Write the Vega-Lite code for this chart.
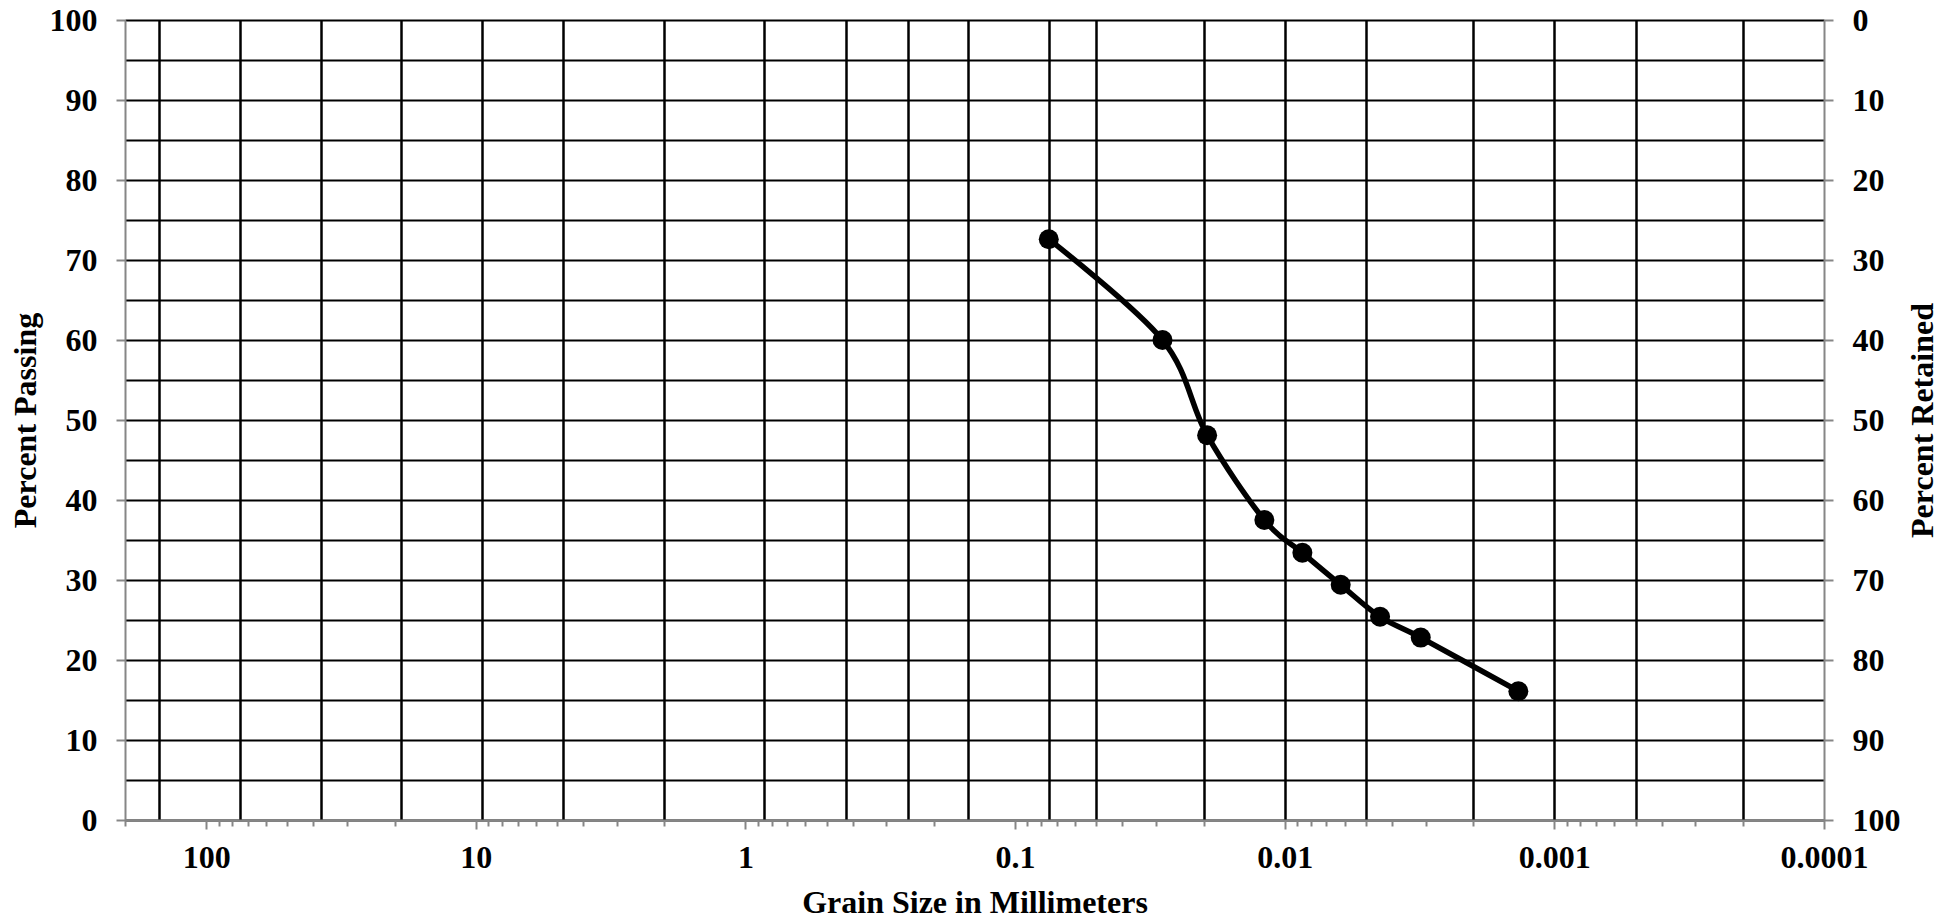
{
  "$schema": "https://vega.github.io/schema/vega-lite/v6.json",
  "width": 1699,
  "height": 800,
  "autosize": "none",
  "padding": {"left": 125, "top": 20, "right": 128, "bottom": 101},
  "background": "white",
  "config": {
    "view": {"stroke": null},
    "axis": {
      "labelFont": "Liberation Serif",
      "titleFont": "Liberation Serif",
      "labelFontWeight": "bold",
      "titleFontWeight": "bold",
      "labelFontSize": 32,
      "titleFontSize": 32,
      "labelColor": "#000000",
      "titleColor": "#000000",
      "domainColor": "#868686",
      "tickColor": "#868686",
      "domainWidth": 2,
      "tickWidth": 2,
      "labelFlush": false,
      "labelOverlap": false
    }
  },
  "data": {
    "values": [
      {"size": 0.075, "passing": 72.6},
      {"size": 0.0284, "passing": 60.0},
      {"size": 0.0194, "passing": 48.1},
      {"size": 0.0119, "passing": 37.5},
      {"size": 0.0086, "passing": 33.4},
      {"size": 0.0062, "passing": 29.4},
      {"size": 0.00443, "passing": 25.4},
      {"size": 0.00313, "passing": 22.8},
      {"size": 0.00136, "passing": 16.1}
    ]
  },
  "layer": [
    {
      "mark": {"type": "point", "opacity": 0},
      "encoding": {
        "x": {
          "field": "size", "type": "quantitative",
          "scale": {"type": "log", "domain": [0.0001, 200], "reverse": true, "nice": false},
          "axis": {"orient": "bottom", "values": [150, 75, 37.5, 19, 9.5, 4.75, 2, 0.85, 0.425, 0.25, 0.15, 0.075, 0.05, 0.02, 0.01, 0.005, 0.002, 0.001, 0.0005, 0.0002],
                   "grid": true, "gridColor": "#000000", "gridWidth": 2.5, "gridOpacity": 1, "ticks": false, "labels": false, "domain": false, "title": null}
        },
        "y": {
          "field": "passing", "type": "quantitative",
          "scale": {"domain": [0, 100], "nice": false, "zero": false},
          "axis": {"orient": "left", "values": [0, 5, 10, 15, 20, 25, 30, 35, 40, 45, 50, 55, 60, 65, 70, 75, 80, 85, 90, 95, 100],
                   "grid": true, "gridColor": "#000000", "gridWidth": 2.2, "gridOpacity": 1, "ticks": false, "labels": false, "domain": false, "title": null}
        }
      }
    },
    {
      "mark": {"type": "point", "opacity": 0},
      "encoding": {
        "x": {
          "field": "size", "type": "quantitative",
          "scale": {"type": "log", "domain": [0.0001, 200], "reverse": true, "nice": false},
          "axis": {"orient": "bottom", "values": [200, 90, 80, 70, 60, 50, 40, 30, 20, 9, 8, 7, 6, 5, 4, 3, 2, 0.9, 0.8, 0.7, 0.6, 0.5, 0.4, 0.3, 0.2, 0.09, 0.08, 0.07, 0.06, 0.05, 0.04, 0.03, 0.02, 0.009, 0.008, 0.007, 0.006, 0.005, 0.004, 0.003, 0.002, 0.0009, 0.0008, 0.0007, 0.0006, 0.0005, 0.0004, 0.0003, 0.0002],
                   "grid": false, "ticks": true, "tickSize": 6, "labels": false, "domain": false, "title": null}
        },
        "y": {"field": "passing", "type": "quantitative", "scale": {"domain": [0, 100], "nice": false, "zero": false}, "axis": null}
      }
    },
    {
      "mark": {"type": "point", "opacity": 0},
      "encoding": {
        "x": {
          "field": "size", "type": "quantitative",
          "scale": {"type": "log", "domain": [0.0001, 200], "reverse": true, "nice": false},
          "axis": {"orient": "bottom", "values": [100, 10, 1, 0.1, 0.01, 0.001, 0.0001], "format": "~g",
                   "grid": false, "tickSize": 9, "labelPadding": 38, "labelBaseline": "alphabetic",
                   "domain": true, "title": "Grain Size in Millimeters",
                   "titleX": 849.5, "titleY": 92, "titleBaseline": "alphabetic", "titleAlign": "center"}
        },
        "y": {
          "field": "passing", "type": "quantitative",
          "scale": {"domain": [0, 100], "nice": false, "zero": false},
          "axis": {"orient": "left", "values": [0, 10, 20, 30, 40, 50, 60, 70, 80, 90, 100],
                   "grid": false, "tickSize": 9, "labelPadding": 19, "domain": true,
                   "title": "Percent Passing", "titleAngle": 270, "titleX": -90, "titleY": 400,
                   "titleBaseline": "alphabetic", "titleAlign": "center"}
        }
      }
    },
    {
      "mark": {"type": "point", "opacity": 0},
      "encoding": {
        "x": {"field": "size", "type": "quantitative", "scale": {"type": "log", "domain": [0.0001, 200], "reverse": true, "nice": false}, "axis": null},
        "y": {
          "field": "passing", "type": "quantitative",
          "scale": {"domain": [0, 100], "nice": false, "zero": false},
          "axis": {"orient": "right", "values": [0, 10, 20, 30, 40, 50, 60, 70, 80, 90, 100],
                   "labelExpr": "'' + (100 - datum.value)",
                   "grid": false, "tickSize": 9, "labelPadding": 19, "domain": true,
                   "title": "Percent Retained", "titleAngle": 270, "titleX": 108, "titleY": 400,
                   "titleBaseline": "alphabetic", "titleAlign": "center"}
        }
      }
    },
    {
      "mark": {"type": "line", "interpolate": "cardinal", "color": "#000000", "strokeWidth": 5.5},
      "encoding": {
        "x": {"field": "size", "type": "quantitative", "scale": {"type": "log", "domain": [0.0001, 200], "reverse": true, "nice": false}, "axis": null},
        "y": {"field": "passing", "type": "quantitative", "scale": {"domain": [0, 100], "nice": false, "zero": false}, "axis": null}
      }
    },
    {
      "mark": {"type": "circle", "color": "#000000", "opacity": 1, "size": 400},
      "encoding": {
        "x": {"field": "size", "type": "quantitative", "scale": {"type": "log", "domain": [0.0001, 200], "reverse": true, "nice": false}, "axis": null},
        "y": {"field": "passing", "type": "quantitative", "scale": {"domain": [0, 100], "nice": false, "zero": false}, "axis": null}
      }
    }
  ],
  "resolve": {"axis": {"x": "independent", "y": "independent"}}
}
